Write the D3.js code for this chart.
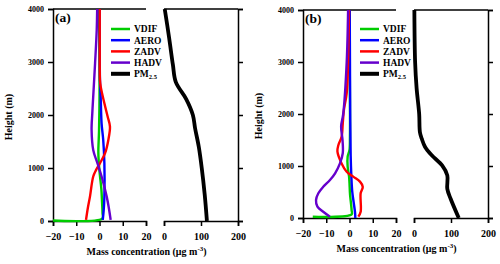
<!DOCTYPE html>
<html><head><meta charset="utf-8">
<script src="https://cdn.jsdelivr.net/npm/d3@7"></script>
<style>html,body{margin:0;padding:0;background:#fff}svg{display:block}
text{font-family:"Liberation Serif","Times New Roman",serif;font-weight:bold;fill:#000}</style>
</head><body><svg id="chart" width="500" height="264"></svg>
<script>
// ---- data: [value, height(m)] ----
const seriesNames = ["VDIF","AERO","ZADV","HADV","PM2.5"];
const seriesColors = ["#00cc00","#0000ff","#ff0000","#6600cc","#000000"];
const heightTicks = [0,1000,2000,3000,4000];
const fluxTicks = [-20,-10,0,10,20];
const pmTicks = [0,100,200];

const a_VDIF = [[-20,10],[1.2,45],[1.3,150],[1.1,350],[0.8,600],[0.2,850],[-0.3,1100],[-0.5,1300],[-0.2,1700],[0,2350],[0,3000],[-0.2,4000]];
const a_AERO = [[1.4,20],[1.8,200],[2.1,460],[2.1,1090],[1.6,1530],[0.9,1840],[0.5,2350],[0.2,2660],[0.1,3300],[0.1,4000]];
const a_ZADV = [[-5.8,20],[-5,250],[-4.1,460],[-2.7,840],[-1.5,960],[0.2,1090],[2.4,1280],[3.8,1530],[4.5,1780],[3.5,1970],[2.1,2220],[0.5,2540],[0.2,2660],[0.1,3300],[0.1,4000]];
const a_HADV = [[4.8,20],[4,250],[3.1,460],[0.9,840],[-0.9,1090],[-2.7,1340],[-3.4,1720],[-3.1,2030],[-2.7,2350],[-1.9,2980],[-1.2,3600],[-1,4000]];
const a_PM = [[116,0],[110,500],[102,1000],[94,1400],[84,1750],[78,2000],[60,2300],[32,2620],[24,2950],[14,3450],[2,4000]];

const b_VDIF = [[-15.8,25],[0.9,70],[0.9,155],[0.2,475],[0,670],[-0.2,800],[-0.8,990],[-0.8,1180],[0,1310],[0.2,1560],[0.2,2200],[0.1,3000],[0.1,4000]];
const b_AERO = [[2.5,0],[2.4,100],[1.8,300],[1.2,500],[0.8,800],[0.5,1200],[0.3,2000],[0.2,3000],[0.1,4000]];
const b_ZADV = [[3.8,25],[4.8,120],[4.8,475],[5.7,600],[4.5,700],[1.6,795],[-1.2,890],[-3.4,1050],[-5.2,1280],[-4.8,1400],[-3.4,1560],[-2.9,1820],[-2.4,2080],[-1.2,2400],[-0.6,3000],[-0.2,4000]];
const b_HADV = [[-8.4,25],[-11.3,120],[-13.8,220],[-14.4,345],[-13.4,475],[-11.3,600],[-8.4,730],[-6.2,860],[-4.1,1050],[-2.9,1245],[-3,1500],[-3.6,1760],[-2.7,2000],[-1.2,3000],[-0.6,4000]];
const b_PM = [[121,0],[99,370],[90,560],[90,820],[76,1010],[48,1205],[30,1365],[21,1525],[16,1650],[14,2000],[7,2500],[3,3000],[1,4000]];

const panels = [
  {label:"(a)", lines:[a_VDIF,a_AERO,a_ZADV,a_HADV], pm:a_PM,
   xL:[53,146], xR:[164,238], y:[221,9], legX:111, legY:29},
  {label:"(b)", lines:[b_VDIF,b_AERO,b_ZADV,b_HADV], pm:b_PM,
   xL:[303,396], xR:[414,488], y:[218,10], legX:360, legY:29}
];

const svg = d3.select("#chart");

function drawPanel(p){
  const g = svg.append("g");
  const x1 = d3.scaleLinear().domain([-20,20]).range(p.xL);
  const x2 = d3.scaleLinear().domain([0,200]).range(p.xR);
  const y = d3.scaleLinear().domain([0,4000]).range(p.y);

  // axes
  const axL = g.append("g").attr("transform",`translate(${p.xL[0]},0)`)
    .call(d3.axisLeft(y).tickValues(heightTicks).tickSize(5).tickPadding(4).tickFormat(d3.format("d")));
  axL.selectAll("text").attr("font-size",9).attr("textLength",d=>String(d).length*4).attr("lengthAdjust","spacingAndGlyphs");
  const axB1 = g.append("g").attr("transform",`translate(0,${p.y[0]})`)
    .call(d3.axisBottom(x1).tickValues(fluxTicks).tickSize(5).tickPadding(7).tickFormat(d3.format("d")));
  const axB2 = g.append("g").attr("transform",`translate(0,${p.y[0]})`)
    .call(d3.axisBottom(x2).tickValues(pmTicks).tickSize(5).tickPadding(7).tickFormat(d3.format("d")));
  const axR = g.append("g").attr("transform",`translate(${p.xR[1]},0)`)
    .call(d3.axisRight(y).tickValues(heightTicks).tickSize(5).tickFormat(""));
  [axL,axB1,axB2,axR].forEach(a=>{
    a.select(".domain").attr("stroke","#000").attr("stroke-width",1.5);
    a.selectAll(".tick line").attr("stroke","#000").attr("stroke-width",1.5);
    a.selectAll("text").attr("font-family",null).attr("fill","#000");
  });
  [axB1,axB2].forEach(a=>a.selectAll("text").attr("font-size",10));
  // top lines
  g.append("line").attr("x1",p.xL[0]).attr("x2",p.xL[1]).attr("y1",p.y[1]).attr("y2",p.y[1]).attr("stroke","#000").attr("stroke-width",1.5);
  g.append("line").attr("x1",p.xR[0]).attr("x2",p.xR[1]).attr("y1",p.y[1]).attr("y2",p.y[1]).attr("stroke","#000").attr("stroke-width",1.5);

  const line1 = d3.line().x(d=>x1(d[0])).y(d=>y(d[1])).curve(d3.curveCatmullRom.alpha(0.5));
  const line2 = d3.line().x(d=>x2(d[0])).y(d=>y(d[1])).curve(d3.curveCatmullRom.alpha(0.5));
  p.lines.forEach((s,i)=>{
    g.append("path").attr("d",line1(s)).attr("fill","none").attr("stroke",seriesColors[i]).attr("stroke-width",2.4).attr("stroke-linejoin","round");
  });
  g.append("path").attr("d",line2(p.pm)).attr("fill","none").attr("stroke","#000").attr("stroke-width",3.8).attr("stroke-linejoin","round");

  // panel label
  g.append("text").attr("x",p.xL[0]+2).attr("y",p.y[1]+13).attr("font-size",13.5).text(p.label);

  // legend
  seriesNames.forEach((n,i)=>{
    const yy = p.legY + i*11.2;
    g.append("line").attr("x1",p.legX).attr("x2",p.legX+19).attr("y1",yy).attr("y2",yy)
      .attr("stroke",seriesColors[i]).attr("stroke-width",i===4?4:2.5);
    const t = g.append("text").attr("x",p.legX+23).attr("y",yy+3.3).attr("font-size",9.5);
    if(n==="PM2.5"){ t.text("PM"); t.append("tspan").attr("font-size",6.5).attr("dy",2).text("2.5"); }
    else t.text(n);
  });

  // y title
  g.append("text").attr("transform",`translate(${p.xL[0]-41},${(p.y[0]+p.y[1])/2+2}) rotate(-90)`)
    .attr("text-anchor","middle").attr("font-size",10).text("Height (m)");
  // x title
  const xt = g.append("text").attr("x",(p.xL[0]+p.xR[1])/2+1).attr("y",p.y[0]+34).attr("text-anchor","middle").attr("font-size",10);
  xt.append("tspan").text("Mass concentration (μg m");
  xt.append("tspan").attr("font-size",7).attr("dy",-4).text("-3");
  xt.append("tspan").attr("dy",4).text(")");
}
panels.forEach(drawPanel);
</script></body></html>
